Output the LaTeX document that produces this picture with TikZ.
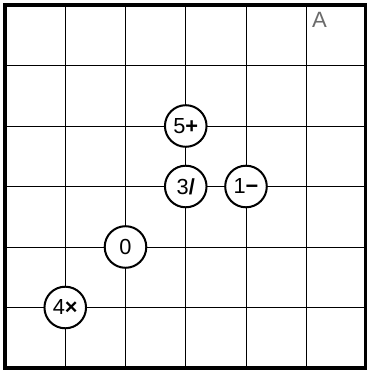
\documentclass[tikz,border=0pt]{standalone}
\usepackage{fontspec}
\setmainfont{Liberation Sans}
\definecolor{ink}{HTML}{000000}
\definecolor{muted}{HTML}{6B6B6B}
\tikzset{
  gridline/.style={line width=0.55pt,draw=ink},
  frame/.style={line width=2.6pt,draw=ink},
  clue/.style={circle,draw=ink,line width=1.15pt,fill=white,minimum size=0.832cm,inner sep=0pt,font=\fontsize{12.4}{14}\selectfont},
  corner/.style={font=\fontsize{12.6}{14}\selectfont,text=muted}
}
\begin{document}
\begin{tikzpicture}[x=1.205cm,y=1.21cm]
  \useasboundingbox (-0.10cm,-0.08cm) rectangle (7.24cm,7.36cm);

  \foreach \i in {1,...,5} {
    \draw[gridline] (\i,0) -- (\i,6);
    \draw[gridline] (0,\i) -- (6,\i);
  }
  \draw[frame] (0,0) rectangle (6,6);

  \node[clue] (plus) at (3,4) {5\textbf{+}};
  \node[clue] (slash) at (3,3) {3\textbf{/}};
  \node[clue] (minus) at (4,3) {1\textbf{−}};
  \node[clue] (zero) at (2,2) {0};
  \node[clue] (times) at (1,1) {4\textbf{×}};

  \node[corner] (label) at (5.22,5.75) {A};
\end{tikzpicture}
\end{document}
